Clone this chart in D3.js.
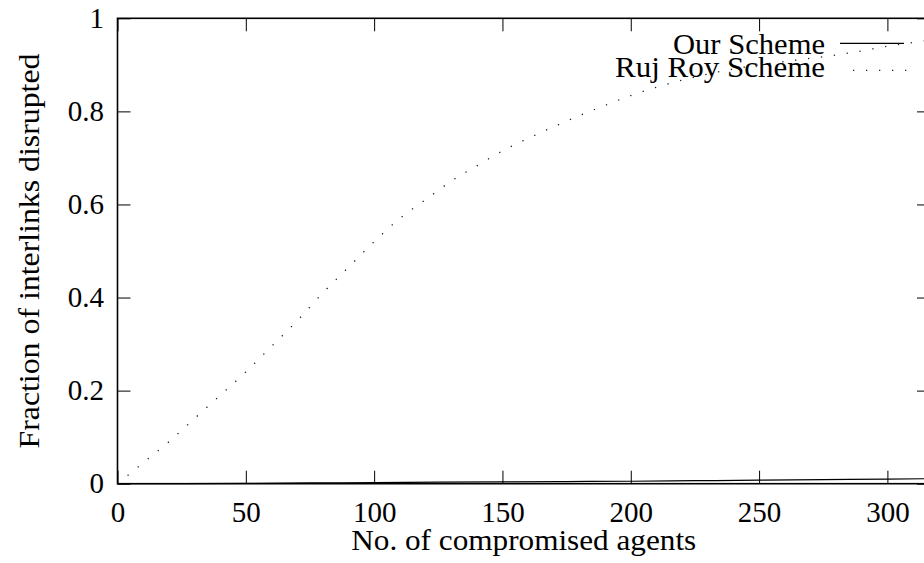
<!DOCTYPE html>
<html>
<head>
<meta charset="utf-8">
<script src="https://cdn.jsdelivr.net/npm/d3@7/dist/d3.min.js"></script>
<style>
  html, body { margin: 0; padding: 0; background: #fff; }
  svg { display: block; }
  text { font-family: "Liberation Serif", "Times New Roman", serif; fill: #000; }
</style>
</head>
<body>
<svg id="chart" width="924" height="563"></svg>
<script>
// number of compromised agents
var agents = [0, 10, 20, 30, 40, 50, 60, 70, 80, 90, 100, 110, 120, 130, 140, 150,
  160, 170, 180, 190, 200, 210, 220, 230, 240, 250, 260, 270, 280, 290, 300, 310, 316];

// fraction of interlinks disrupted, Ruj Roy scheme (dotted)
var rujRoy = [0, 0.045, 0.09, 0.14, 0.19, 0.24, 0.295, 0.35, 0.41, 0.465, 0.52, 0.57, 0.61,
  0.65, 0.683, 0.715, 0.742, 0.767, 0.791, 0.813, 0.834, 0.852, 0.867, 0.88, 0.891, 0.9,
  0.907, 0.914, 0.921, 0.93, 0.94, 0.948, 0.953];

// fraction of interlinks disrupted, our scheme (solid)
var ourAgents = [0, 25, 50, 75, 100, 125, 150, 175, 200, 225, 250, 275, 300, 316];
var ourScheme = [0, 0.0003, 0.0008, 0.0016, 0.0025, 0.0033, 0.004, 0.0046, 0.0053, 0.0064,
  0.0075, 0.0087, 0.0098, 0.0107];

var xTicks = [0, 50, 100, 150, 200, 250, 300];
var yTicks = [0, 0.2, 0.4, 0.6, 0.8, 1];
var seriesNames = ['Our Scheme', 'Ruj Roy Scheme'];

(function() {
  "use strict";

  var svg = d3.select('#chart');
  // the right border sits just past the picture edge
  var plotLeft = 117.5, plotRight = 930, plotTop = 18.3, plotBottom = 483.7;
  var tickLen = 13;
  var fontSize = 29;

  var x = d3.scaleLinear().domain([0, 316.6]).range([plotLeft, plotRight]);
  var y = d3.scaleLinear().domain([0, 1]).range([plotBottom, plotTop]);

  function styleAxis(g) {
    g.select('.domain').remove();
    g.selectAll('.tick line').attr('stroke', '#000').attr('stroke-width', 1);
    g.selectAll('.tick text').style('font-size', fontSize + 'px').attr('fill', '#000');
  }

  // bottom axis, ticks pointing in
  svg.append('g')
    .attr('transform', 'translate(0,' + plotBottom + ')')
    .call(d3.axisBottom(x).tickValues(xTicks).tickSizeInner(-tickLen).tickSizeOuter(0)
      .tickFormat(d3.format('d')).tickPadding(0))
    .call(styleAxis)
    .call(function(g) {
      g.selectAll('.tick text').attr('y', 38).attr('dy', null);
    });

  // left axis
  svg.append('g')
    .attr('transform', 'translate(' + plotLeft + ',0)')
    .call(d3.axisLeft(y).tickValues(yTicks).tickSizeInner(-tickLen).tickSizeOuter(0)
      .tickFormat(function(d) { return d === 0 || d === 1 ? d3.format('d')(d) : d3.format('.1f')(d); })
      .tickPadding(0))
    .call(styleAxis)
    .call(function(g) {
      g.selectAll('.tick text').attr('x', -13.5).attr('dy', '0.32em');
    });

  // mirrored ticks on top and right
  svg.append('g')
    .attr('transform', 'translate(0,' + plotTop + ')')
    .call(d3.axisTop(x).tickValues(xTicks).tickSizeInner(-tickLen).tickSizeOuter(0).tickFormat(''))
    .call(styleAxis);

  svg.append('g')
    .attr('transform', 'translate(' + plotRight + ',0)')
    .call(d3.axisRight(y).tickValues(yTicks).tickSizeInner(-tickLen).tickSizeOuter(0).tickFormat(''))
    .call(styleAxis);

  // border
  svg.append('rect')
    .attr('x', plotLeft).attr('y', plotTop)
    .attr('width', plotRight - plotLeft).attr('height', plotBottom - plotTop)
    .attr('fill', 'none').attr('stroke', '#000').attr('stroke-width', 1.6);

  var line = d3.line()
    .x(function(d) { return x(d[0]); })
    .y(function(d) { return y(d[1]); })
    .curve(d3.curveMonotoneX);

  var rujData = d3.zip(agents, rujRoy);
  var ourData = d3.zip(ourAgents, ourScheme);

  svg.append('path')
    .datum(rujData)
    .attr('d', line)
    .attr('fill', 'none')
    .attr('stroke', '#222')
    .attr('stroke-width', 1.3)
    .attr('stroke-dasharray', '1.3 11.7');

  svg.append('path')
    .datum(ourData)
    .attr('d', line)
    .attr('fill', 'none')
    .attr('stroke', '#000')
    .attr('stroke-width', 1.2);

  // legend
  var legend = svg.append('g');
  legend.append('text')
    .attr('x', 825).attr('y', 54)
    .attr('text-anchor', 'end')
    .attr('textLength', 152).attr('lengthAdjust', 'spacingAndGlyphs')
    .style('font-size', fontSize + 'px')
    .text(seriesNames[0]);
  legend.append('line')
    .attr('x1', 840).attr('x2', 904).attr('y1', 43.3).attr('y2', 43.3)
    .attr('stroke', '#000').attr('stroke-width', 1.2);

  legend.append('text')
    .attr('x', 825).attr('y', 77)
    .attr('text-anchor', 'end')
    .attr('textLength', 210).attr('lengthAdjust', 'spacingAndGlyphs')
    .style('font-size', fontSize + 'px')
    .text(seriesNames[1]);
  legend.append('line')
    .attr('x1', 853).attr('x2', 910).attr('y1', 70.3).attr('y2', 70.3)
    .attr('stroke', '#222').attr('stroke-width', 1.3)
    .attr('stroke-dasharray', '1.3 11.7');

  // axis titles
  svg.append('text')
    .attr('x', (plotLeft + plotRight) / 2).attr('y', 550)
    .attr('text-anchor', 'middle')
    .attr('textLength', 345).attr('lengthAdjust', 'spacingAndGlyphs')
    .style('font-size', fontSize + 'px')
    .text('No. of compromised agents');

  svg.append('text')
    .attr('transform', 'translate(39,' + ((plotTop + plotBottom) / 2) + ') rotate(-90)')
    .attr('text-anchor', 'middle')
    .attr('textLength', 395).attr('lengthAdjust', 'spacingAndGlyphs')
    .style('font-size', fontSize + 'px')
    .text('Fraction of interlinks disrupted');
})();
</script>
</body>
</html>
